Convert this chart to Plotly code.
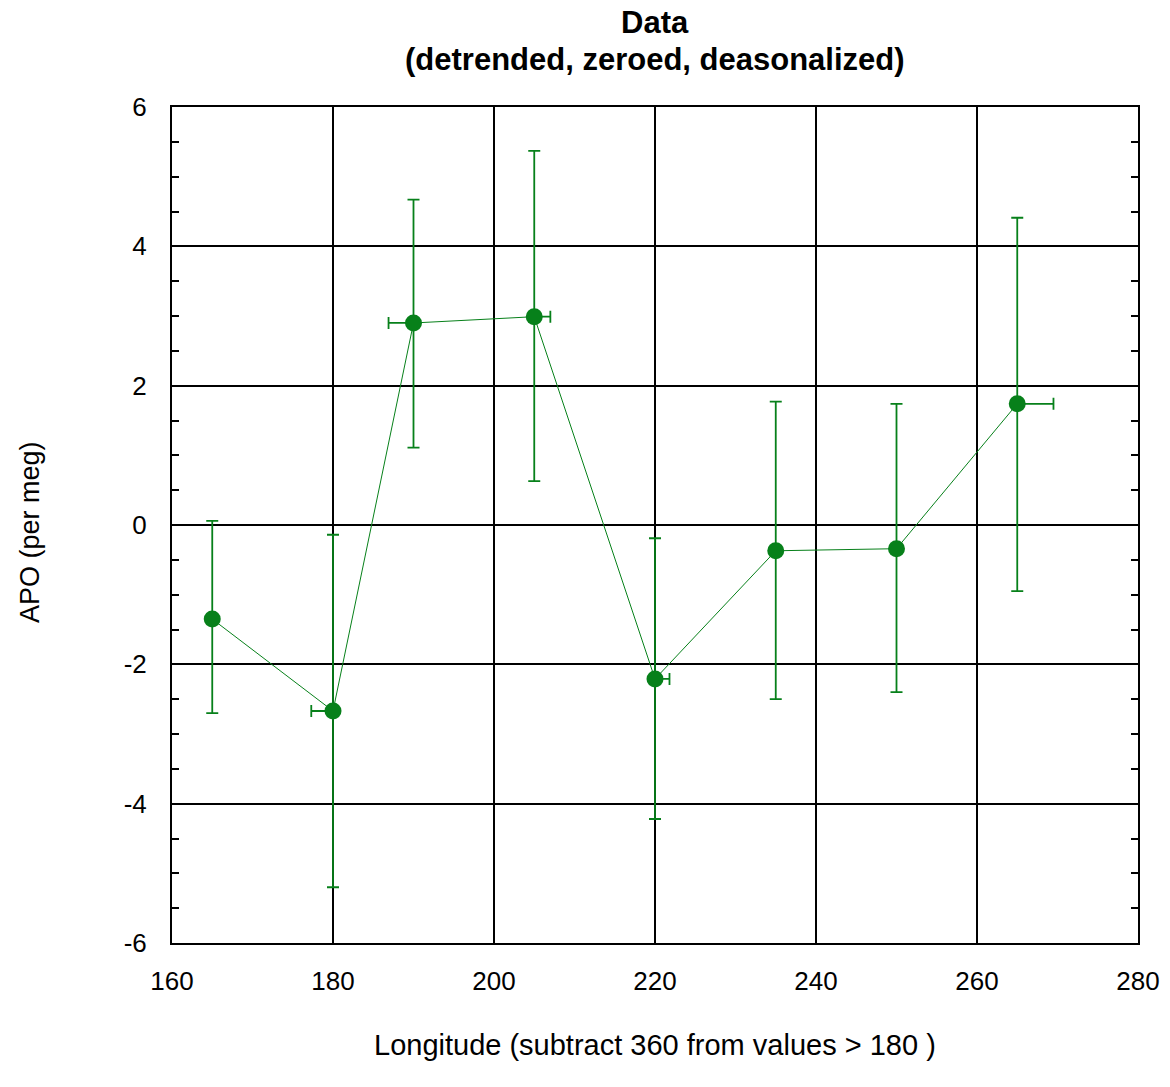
import plotly.graph_objects as go

longitude = [165, 180, 190, 205, 220, 235, 250, 265]
apo = [-1.35, -2.67, 2.90, 2.99, -2.21, -0.37, -0.34, 1.74]
apo_err_plus = [1.41, 2.53, 1.77, 2.38, 2.02, 2.14, 2.08, 2.67]
apo_err_minus = [1.35, 2.53, 1.79, 2.36, 2.01, 2.13, 2.06, 2.69]
lon_err_plus = [0, 0, 0, 2.0, 1.8, 0, 0, 4.5]
lon_err_minus = [0, 2.7, 3.1, 0, 0, 0, 0, 0]

title_lines = ["Data", "(detrended, zeroed, deasonalized)"]
x_title = "Longitude (subtract 360 from values > 180 )"
y_title = "APO (per meg)"
y_ticks = [-6, -4, -2, 0, 2, 4, 6]

green = "#07801a"
font = "Liberation Sans, Arial, sans-serif"

L, R, T, B = 172, 32, 107, 144
W, H = 1170, 1087
ph = H - T - B
pw = W - L - R

def py(pix):
    return (H - B - pix) / ph

def px(pix):
    return (pix - L) / pw

fig = go.Figure()
fig.add_trace(go.Scatter(
    x=longitude, y=apo, mode="lines+markers",
    line=dict(color=green, width=1),
    marker=dict(color=green, size=17),
    error_y=dict(type="data", symmetric=False, array=apo_err_plus, arrayminus=apo_err_minus,
                 color=green, thickness=1.8, width=6),
    error_x=dict(type="data", symmetric=False, array=lon_err_plus, arrayminus=lon_err_minus,
                 color=green, thickness=1.8, width=6),
    showlegend=False,
))

annotations = [
    dict(text="<b>%s</b>" % title_lines[0], x=px(655), y=py(22), xref="paper", yref="paper",
         xanchor="center", yanchor="middle", showarrow=False, font=dict(size=31)),
    dict(text="<b>%s</b>" % title_lines[1], x=px(655), y=py(60), xref="paper", yref="paper",
         xanchor="center", yanchor="middle", showarrow=False, font=dict(size=31)),
    dict(text=x_title, x=px(655), y=py(1045), xref="paper", yref="paper",
         xanchor="center", yanchor="middle", showarrow=False, font=dict(size=29)),
    dict(text=y_title, x=px(30), y=py(532), xref="paper", yref="paper", textangle=-90,
         xanchor="center", yanchor="middle", showarrow=False, font=dict(size=27)),
]

fig.update_layout(
    width=W, height=H,
    margin=dict(l=L, r=R, t=T, b=B),
    paper_bgcolor="white", plot_bgcolor="white",
    font=dict(family=font, size=26, color="black"),
    annotations=annotations,
    xaxis=dict(range=[160, 280], dtick=20, showgrid=True, gridcolor="black", gridwidth=1.5,
               zeroline=False, showline=True, linecolor="black", linewidth=2, mirror=True,
               ticks="", tickfont=dict(size=26), ticklabelstandoff=14, automargin=False),
    yaxis=dict(range=[-6, 6], showgrid=True, gridcolor="black", gridwidth=1.5,
               zeroline=False, showline=True, linecolor="black", linewidth=2, mirror="ticks",
               ticks="inside", ticklen=0, tickcolor="black", tickfont=dict(size=26),
               ticklabelstandoff=18, automargin=False,
               tickvals=y_ticks, ticktext=[str(v) for v in y_ticks],
               minor=dict(dtick=0.5, ticks="inside", ticklen=7, tickcolor="black", tickwidth=2,
                          showgrid=False)),
)

fig.write_html("out.html")
